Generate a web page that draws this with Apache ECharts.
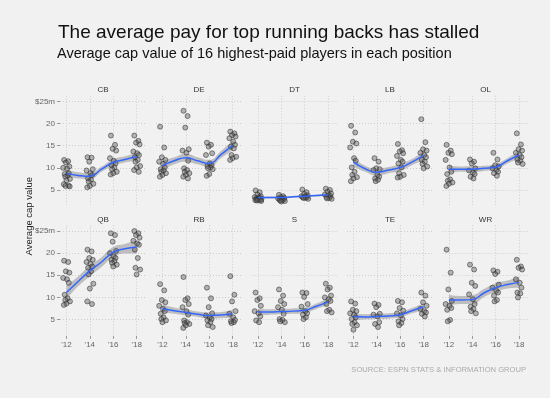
<!DOCTYPE html>
<html>
<head>
<meta charset="utf-8">
<script src="https://cdn.jsdelivr.net/npm/echarts@6/dist/echarts.min.js"></script>
<style>
  html, body { margin: 0; padding: 0; background: #f1f1f1; }
  #chart { width: 550px; height: 398px; }
</style>
</head>
<body>
<div id="chart"></div>
<script>
// Facet data: cap values ($m) of top-paid players, one list per season
const positions = ['CB', 'DE', 'DT', 'LB', 'OL', 'QB', 'RB', 'S', 'TE', 'WR'];
const pointYears = [2012, 2014, 2016, 2018];
const smoothYears = [2012, 2013, 2014, 2015, 2016, 2017, 2018];
const xTickLabels = ["'12", "'14", "'16", "'18"];
const yTickValues = [5, 10, 15, 20, 25];

const cbPoints = [
    [11.8, 11.5, 11.2, 10.3, 10.0, 9.8, 8.8, 8.6, 8.3, 8.0, 7.5, 7.2, 6.3, 6.0, 5.9, 5.8],
    [12.4, 12.3, 11.4, 9.7, 9.4, 8.8, 8.4, 7.6, 7.3, 6.9, 6.4, 5.9, 5.6],
    [17.3, 15.2, 14.3, 13.9, 12.2, 11.6, 11.0, 10.6, 10.1, 9.7, 9.1, 8.8, 8.5],
    [17.3, 16.1, 15.7, 15.3, 13.7, 13.3, 12.9, 12.4, 11.8, 11.4, 10.4, 10.1, 9.5, 9.1]
];
const dePoints = [
    [19.3, 14.6, 12.4, 11.8, 11.4, 10.9, 10.1, 9.7, 9.4, 9.1, 8.8, 8.4, 8.0],
    [22.9, 21.7, 19.1, 14.2, 13.9, 13.4, 11.6, 9.9, 9.5, 9.1, 8.8, 8.4, 8.0, 7.6],
    [15.7, 15.2, 14.8, 13.3, 12.9, 11.0, 10.6, 10.4, 10.1, 9.9, 9.7, 8.6, 8.2],
    [18.2, 17.8, 17.4, 17.1, 16.7, 15.9, 15.2, 14.8, 14.4, 12.9, 12.5, 12.2, 11.8]
];
const dtPoints = [
    [4.9, 4.5, 4.0, 3.6, 3.4, 3.3, 3.2, 3.1, 3.0, 2.9, 2.9, 2.8, 2.7, 2.7, 2.6, 2.5],
    [3.9, 3.6, 3.4, 3.2, 3.1, 3.0, 2.9, 2.8, 2.7, 2.6, 2.5, 2.4],
    [5.1, 4.5, 4.1, 3.8, 3.6, 3.5, 3.4, 3.3, 3.2, 3.2, 3.0],
    [5.3, 5.0, 4.6, 4.2, 4.0, 3.8, 3.6, 3.4, 3.2, 3.1, 3.0]
];
const lbPoints = [
    [19.5, 18.0, 15.9, 15.5, 14.6, 12.2, 11.6, 10.1, 9.1, 8.4, 7.9, 7.6, 7.0],
    [12.2, 11.4, 9.9, 9.7, 9.5, 8.4, 8.0, 7.6, 7.3, 7.0],
    [15.4, 14.0, 13.7, 13.3, 12.7, 11.8, 11.4, 11.0, 10.1, 8.8, 8.4, 8.0, 7.8],
    [21.0, 15.8, 14.2, 13.9, 13.4, 12.9, 12.4, 11.8, 11.4, 10.9, 10.3, 9.9]
];
const olPoints = [
    [15.2, 13.9, 13.4, 13.1, 11.8, 10.1, 9.1, 8.6, 7.4, 7.1, 6.7, 6.4, 5.9],
    [11.9, 11.4, 11.0, 9.9, 9.4, 8.9, 8.6, 8.0, 7.6],
    [13.4, 11.9, 10.6, 10.3, 9.9, 9.5, 9.1, 8.8, 8.2],
    [17.8, 15.3, 14.2, 13.9, 13.4, 12.9, 12.4, 11.9, 11.6, 11.2, 10.9]
];
const qbPoints = [
    [18.3, 18.0, 15.9, 15.6, 14.4, 14.1, 13.3, 10.6, 9.8, 9.4, 9.1, 8.6, 8.3],
    [20.8, 20.4, 18.9, 18.5, 18.0, 17.6, 17.0, 16.7, 15.9, 15.2, 13.1, 12.0, 9.1, 8.5],
    [24.5, 24.1, 22.6, 20.5, 20.0, 19.3, 18.9, 18.5, 18.2, 17.8, 17.4, 17.0],
    [25.0, 24.5, 24.1, 23.5, 22.8, 22.2, 21.9, 20.8, 18.9, 16.7, 16.3, 15.2]
];
const rbPoints = [
    [13.0, 11.6, 9.4, 8.9, 8.1, 7.4, 6.9, 6.3, 5.5, 5.1, 4.8, 4.4],
    [14.6, 9.8, 9.4, 8.5, 7.8, 6.9, 6.1, 4.8, 4.4, 4.2, 4.0, 3.7, 3.1],
    [12.2, 9.8, 7.8, 6.4, 5.9, 5.4, 5.1, 4.8, 4.4, 3.7, 3.3],
    [14.8, 10.6, 9.1, 6.9, 6.3, 5.5, 4.9, 4.6, 4.4, 4.2]
];
const sPoints = [
    [11.1, 9.8, 9.4, 8.1, 6.9, 6.4, 5.7, 4.8, 4.4],
    [11.8, 10.4, 9.2, 8.5, 7.8, 7.2, 6.3, 5.1, 4.9, 4.6, 4.4],
    [11.1, 11.0, 10.1, 8.5, 7.9, 6.9, 6.4, 6.1, 5.5, 5.1],
    [13.1, 12.2, 11.8, 10.4, 10.0, 9.6, 9.2, 8.5, 7.2, 6.9, 6.6]
];
const tePoints = [
    [9.1, 8.6, 7.2, 6.9, 6.4, 6.1, 5.5, 5.1, 4.4, 4.0, 3.7, 2.7],
    [8.6, 8.3, 7.8, 6.3, 6.1, 5.7, 4.4, 4.0, 3.3],
    [9.2, 8.9, 7.6, 7.0, 6.4, 5.9, 5.1, 4.6, 4.2, 3.7],
    [11.1, 10.4, 8.9, 8.1, 7.4, 6.9, 6.6, 6.3, 5.7]
];
const wrPoints = [
    [20.8, 15.6, 11.8, 9.2, 8.5, 8.1, 7.6, 7.2, 4.9, 4.6],
    [17.4, 16.3, 13.3, 12.6, 10.7, 9.6, 8.5, 7.9, 7.4, 6.9, 6.4],
    [16.1, 15.8, 15.3, 12.9, 12.2, 11.5, 11.1, 10.4, 9.4, 9.1],
    [18.5, 17.0, 16.7, 16.3, 14.1, 13.3, 12.2, 11.1, 10.9, 10.0]
];

// loess fit, with half-width of its grey band
const cbSmooth = [8.7, 8.3, 8.1, 9.7, 11.2, 11.9, 12.5];
const deSmooth = [10.5, 11.6, 12.3, 11.6, 11.0, 13.0, 15.1];
const dtSmooth = [3.3, 3.3, 3.3, 3.45, 3.6, 3.75, 3.9];
const lbSmooth = [11.3, 9.8, 9.0, 9.5, 10.1, 11.3, 12.8];
const olSmooth = [9.7, 9.7, 9.7, 9.9, 10.2, 11.6, 12.9];
const qbSmooth = [11.1, 13.6, 16.0, 18.0, 20.2, 21.0, 21.4];
const rbSmooth = [7.5, 7.0, 6.6, 6.2, 5.9, 6.0, 6.3];
const sSmooth = [6.7, 6.7, 6.8, 6.9, 7.1, 8.0, 9.0];
const teSmooth = [5.7, 5.6, 5.7, 5.8, 6.1, 7.0, 7.9];
const wrSmooth = [9.4, 9.4, 9.5, 11.0, 12.2, 12.9, 13.4];

const cbBand = [0.9, 0.7, 0.7, 0.6, 0.7, 0.7, 0.9];
const deBand = [1.1, 0.8, 0.9, 0.8, 0.8, 0.8, 1.1];
const dtBand = [0.3, 0.2, 0.2, 0.2, 0.2, 0.2, 0.3];
const lbBand = [1.0, 0.7, 0.8, 0.7, 0.8, 0.7, 1.0];
const olBand = [0.9, 0.6, 0.7, 0.6, 0.7, 0.6, 0.9];
const qbBand = [1.5, 1.1, 1.2, 1.1, 1.2, 1.1, 1.5];
const rbBand = [0.9, 0.7, 0.7, 0.6, 0.7, 0.7, 0.9];
const sBand = [0.8, 0.6, 0.6, 0.6, 0.6, 0.6, 0.8];
const teBand = [0.8, 0.6, 0.6, 0.6, 0.6, 0.6, 0.8];
const wrBand = [1.2, 0.9, 1.0, 0.9, 1.0, 0.9, 1.2];

const allPoints = [cbPoints, dePoints, dtPoints, lbPoints, olPoints, qbPoints, rbPoints, sPoints, tePoints, wrPoints];
const allSmooth = [cbSmooth, deSmooth, dtSmooth, lbSmooth, olSmooth, qbSmooth, rbSmooth, sSmooth, teSmooth, wrSmooth];
const allBand = [cbBand, deBand, dtBand, lbBand, olBand, qbBand, rbBand, sBand, teBand, wrBand];

// horizontal jitter pattern for the scatter, in years
const jitter = [-0.2, 0.15, -0.05, 0.25, -0.28, 0.05, 0.2, -0.15, 0.1, -0.1, 0.3, 0.0, -0.22, 0.18, -0.08, 0.28];

const chart = echarts.init(document.getElementById('chart'), null, { renderer: 'canvas' });

const panelLefts = [60, 156, 251.5, 347, 442.5];
const panelTops = [95.75, 225.3];
const panelW = 86;
const panelH = 110.6;
const gridColor = '#cccccc';
const labelColor = '#666666';

const grids = [], xAxes = [], yAxes = [], series = [], titles = [];

titles.push({
    text: 'The average pay for top running backs has stalled',
    left: 58, top: 23, padding: 0,
    textStyle: { fontFamily: 'Liberation Sans', fontSize: 19, fontWeight: 'normal', color: '#111' }
});
titles.push({
    text: 'Average cap value of 16 highest-paid players in each position',
    left: 57, top: 46, padding: 0,
    textStyle: { fontFamily: 'Liberation Sans', fontSize: 14.5, fontWeight: 'normal', color: '#111' }
});

positions.forEach((pos, i) => {
    const col = i % 5;
    const row = Math.floor(i / 5);
    const left = panelLefts[col];
    const top = panelTops[row];

    grids.push({ left: left, top: top, width: panelW, height: panelH, containLabel: false });

    titles.push({
        text: pos,
        left: left + panelW / 2, top: top - 10, padding: 0,
        textAlign: 'center',
        textStyle: { fontFamily: 'Liberation Sans', fontSize: 8, fontWeight: 'normal', color: '#333' }
    });

    xAxes.push({
        gridIndex: i,
        type: 'value',
        min: 2011.45, max: 2018.8,
        axisLine: { show: false },
        axisTick: {
            show: row === 1, length: 3, customValues: pointYears,
            lineStyle: { color: '#999' }
        },
        axisLabel: {
            show: row === 1, customValues: pointYears, margin: 5,
            fontFamily: 'Liberation Sans', fontSize: 8, color: labelColor,
            formatter: v => xTickLabels[pointYears.indexOf(v)]
        },
        splitLine: { show: true, lineStyle: { color: gridColor, type: [1, 2], width: 1 } }
    });

    yAxes.push({
        gridIndex: i,
        type: 'value',
        min: 1.3, max: 26.3,
        axisLine: { show: false },
        axisTick: {
            show: col === 0, length: 3, customValues: yTickValues,
            lineStyle: { color: '#999' }
        },
        axisLabel: {
            show: col === 0, customValues: yTickValues, margin: 5,
            fontFamily: 'Liberation Sans', fontSize: 8, color: labelColor,
            formatter: v => (v === 25 ? '$25m' : String(v))
        },
        splitLine: { show: true, lineStyle: { color: gridColor, type: [1, 2], width: 1 } }
    });

    const smooth = allSmooth[i];
    const band = allBand[i];

    // confidence band: invisible lower edge, then stacked width.
    // value column first so the stack runs on y, not on the year
    series.push({
        type: 'line', xAxisIndex: i, yAxisIndex: i,
        data: smoothYears.map((y, k) => [smooth[k] - band[k], y]),
        encode: { x: 1, y: 0 },
        stack: 'band' + i, smooth: true, symbol: 'none', silent: true,
        lineStyle: { opacity: 0 }, z: 1
    });
    series.push({
        type: 'line', xAxisIndex: i, yAxisIndex: i,
        data: smoothYears.map((y, k) => [2 * band[k], y]),
        encode: { x: 1, y: 0 },
        stack: 'band' + i, smooth: true, symbol: 'none', silent: true,
        lineStyle: { opacity: 0 },
        areaStyle: { color: 'rgba(140,140,140,0.5)', opacity: 1 }, z: 1
    });

    const pts = [];
    allPoints[i].forEach((vals, k) => {
        vals.forEach((v, j) => pts.push([pointYears[k] + jitter[j % jitter.length], v]));
    });
    series.push({
        type: 'scatter', xAxisIndex: i, yAxisIndex: i,
        data: pts, symbolSize: 5,
        itemStyle: { color: 'rgba(95,95,95,0.55)', borderColor: 'rgba(35,35,35,0.8)', borderWidth: 0.8 },
        z: 3
    });

    series.push({
        type: 'line', xAxisIndex: i, yAxisIndex: i,
        data: smoothYears.map((y, k) => [y, smooth[k]]),
        smooth: true, symbol: 'none', silent: true,
        lineStyle: { color: '#3366ff', width: 1.5 }, z: 4
    });
});

const option = {
    backgroundColor: '#f1f1f1',
    animation: false,
    title: titles,
    grid: grids,
    xAxis: xAxes,
    yAxis: yAxes,
    series: series,
    graphic: [
        {
            type: 'text', left: 24, top: 177, rotation: Math.PI / 2,
            style: { text: 'Average cap value', fontFamily: 'Liberation Sans', fontSize: 9.5, fill: '#222' }
        },
        {
            type: 'text', right: 24, top: 366,
            style: { text: 'SOURCE: ESPN STATS & INFORMATION GROUP', fontFamily: 'Liberation Sans', fontSize: 7.6, fill: '#aaaaaa' }
        }
    ]
};

chart.setOption(option);
</script>
</body>
</html>
